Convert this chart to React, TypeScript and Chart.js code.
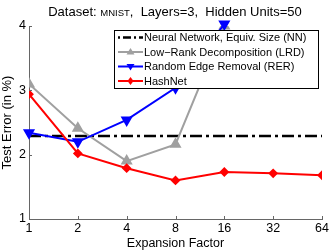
import React, { useEffect, useRef } from "react";
import { Chart, registerables } from "chart.js";
Chart.register(...registerables);

const factors = [1, 2, 4, 8, 16, 32, 64];
const nnValues = [2.29, 2.29, 2.29, 2.29, 2.29, 2.29, 2.29];
const lrdValues = [3.1, 2.41, 1.9, 2.16, 4.0];
const rerValues = [2.34, 2.2, 2.54, 3.04, 4.03];
const hashValues = [2.94, 2.02, 1.79, 1.6, 1.73, 1.71, 1.68];
const yTicks = [1, 2, 3, 4];

const titleParts = ["Dataset: ", "MNIST", ",  Layers=3,  Hidden Units=50"];
const labels = [
  "Neural Network, Equiv. Size (NN)",
  "Low\u2212Rank Decomposition (LRD)",
  "Random Edge Removal (RER)",
  "HashNet",
];
const FONT = "'Liberation Sans', Arial, sans-serif";

const toPts = (vals: number[]) => vals.map((v, i) => ({ x: Math.log2(factors[i]), y: v }));

export default function App() {
  const ref = useRef<HTMLCanvasElement>(null);
  useEffect(() => {
    document.body.style.margin = "0";
    const overlay = {
      id: "overlay",
      afterDatasetsDraw(chart: any) {
        const ctx = chart.ctx;
        const { left, right, top, bottom } = chart.chartArea;
        const xs = chart.scales.x;
        const ys = chart.scales.y;
        ctx.save();
        // inward ticks
        ctx.strokeStyle = "#666";
        ctx.lineWidth = 1;
        factors.forEach((f) => {
          const x = Math.round(xs.getPixelForValue(Math.log2(f))) + 0.5;
          ctx.beginPath();
          ctx.moveTo(x, bottom);
          ctx.lineTo(x, bottom - 3);
          ctx.stroke();
        });
        yTicks.forEach((t) => {
          const y = Math.round(ys.getPixelForValue(t)) + 0.5;
          ctx.beginPath();
          ctx.moveTo(left, y);
          ctx.lineTo(left + 3, y);
          ctx.stroke();
        });
        // legend
        const bx = 114.5, by = 30.5, bw = 204, bh = 58;
        ctx.fillStyle = "#fff";
        ctx.fillRect(bx, by, bw, bh);
        ctx.strokeStyle = "#000";
        ctx.lineWidth = 1;
        ctx.strokeRect(bx, by, bw, bh);
        ctx.font = "11px " + FONT;
        ctx.textBaseline = "middle";
        ctx.textAlign = "left";
        const ds = chart.data.datasets;
        const order = [0, 1, 2, 3];
        order.forEach((di, row) => {
          const d = ds[di];
          const y = 37.5 + row * 14.5;
          const x0 = 118, x1 = 143;
          ctx.save();
          ctx.strokeStyle = d.borderColor;
          ctx.lineWidth = d.borderWidth;
          if (d.borderDash) ctx.setLineDash([2, 3, 8, 3]);
          ctx.beginPath();
          ctx.moveTo(x0, y);
          ctx.lineTo(x1, y);
          ctx.stroke();
          ctx.restore();
          if (d.pointRadius > 0) {
            ctx.fillStyle = d.pointBackgroundColor;
            ctx.beginPath();
            const cx = (x0 + x1) / 2;
            const r = 4;
            if (d.pointStyle === "triangle" && !d.pointRotation) {
              ctx.moveTo(cx, y - r);
              ctx.lineTo(cx + r, y + r * 0.6);
              ctx.lineTo(cx - r, y + r * 0.6);
            } else if (d.pointStyle === "triangle") {
              ctx.moveTo(cx, y + r);
              ctx.lineTo(cx + r, y - r * 0.6);
              ctx.lineTo(cx - r, y - r * 0.6);
            } else {
              ctx.moveTo(cx, y - r);
              ctx.lineTo(cx + 3, y);
              ctx.lineTo(cx, y + r);
              ctx.lineTo(cx - 3, y);
            }
            ctx.closePath();
            ctx.fill();
          }
          ctx.fillStyle = "#000";
          ctx.fillText(labels[di], 144, y + 0.5);
        });
        ctx.restore();
      },
      afterDraw(chart: any) {
        const ctx = chart.ctx;
        ctx.save();
        ctx.fillStyle = "#000";
        ctx.textBaseline = "alphabetic";
        ctx.textAlign = "left";
        const fonts = ["13px " + FONT, "9.5px " + FONT, "13px " + FONT];
        let total = 0;
        const widths = titleParts.map((p, i) => {
          ctx.font = fonts[i];
          const w = ctx.measureText(p).width;
          total += w;
          return w;
        });
        let x = 175 - total / 2;
        titleParts.forEach((p, i) => {
          ctx.font = fonts[i];
          ctx.fillText(p, x, 16);
          x += widths[i];
        });
        ctx.restore();
      },
    };
    const chart = new Chart(ref.current!, {
      type: "line",
      data: {
        datasets: [
          {
            label: labels[0],
            data: toPts(nnValues),
            borderColor: "#000",
            backgroundColor: "#000",
            borderWidth: 2.5,
            borderDash: [12, 4, 3, 4],
            pointRadius: 0,
            order: 3,
          },
          {
            label: labels[1],
            data: toPts(lrdValues),
            borderColor: "#a0a0a0",
            backgroundColor: "#a0a0a0",
            pointBackgroundColor: "#a0a0a0",
            borderWidth: 2,
            pointStyle: "triangle",
            pointRadius: 5,
            order: 2,
          },
          {
            label: labels[2],
            data: toPts(rerValues),
            borderColor: "#0000ff",
            backgroundColor: "#0000ff",
            pointBackgroundColor: "#0000ff",
            borderWidth: 2,
            pointStyle: "triangle",
            pointRotation: 180,
            pointRadius: 5,
            clip: false,
            order: 1,
          },
          {
            label: labels[3],
            data: toPts(hashValues),
            borderColor: "#ff0000",
            backgroundColor: "#ff0000",
            pointBackgroundColor: "#ff0000",
            borderWidth: 2,
            pointStyle: "rectRot",
            pointRadius: 3.5,
            order: 0,
          },
        ] as any,
      },
      options: {
        animation: false,
        responsive: false,
        devicePixelRatio: 1,
        layout: { padding: { left: 0, right: 10, top: 26, bottom: 0 } },
        plugins: { legend: { display: false }, tooltip: { enabled: false }, title: { display: false } },
        scales: {
          x: {
            type: "linear",
            min: 0,
            max: 6,
            afterFit: (s: any) => { s.height = 32; },
            afterBuildTicks: (s: any) => { s.ticks = factors.map((f) => ({ value: Math.log2(f) })); },
            ticks: {
              callback: (v: any) => String(Math.pow(2, v)),
              color: "#000",
              font: { family: FONT, size: 12.5 },
              padding: 2,
              maxRotation: 0,
              autoSkip: false,
            },
            grid: { display: false, drawTicks: false },
            border: { display: true, color: "#666", width: 1 },
            title: { display: true, text: "Expansion Factor", color: "#000", font: { family: FONT, size: 12.5 }, padding: { top: 0, bottom: 0 } },
          },
          y: {
            type: "linear",
            min: 1,
            max: 4,
            afterFit: (s: any) => { s.width = 29; },
            afterBuildTicks: (s: any) => { s.ticks = yTicks.map((t) => ({ value: t })); },
            ticks: { color: "#000", font: { family: FONT, size: 12.5 }, padding: 3 },
            grid: { display: false, drawTicks: false },
            border: { display: true, color: "#666", width: 1 },
            title: { display: true, text: "Test Error (in %)", color: "#000", font: { family: FONT, size: 13 }, padding: { top: 0, bottom: 0 } },
          },
        },
      } as any,
      plugins: [overlay],
    });
    return () => chart.destroy();
  }, []);
  return (
    <div style={{ width: 332, height: 251 }}>
      <canvas ref={ref} width={332} height={251} style={{ display: "block" }} />
    </div>
  );
}
